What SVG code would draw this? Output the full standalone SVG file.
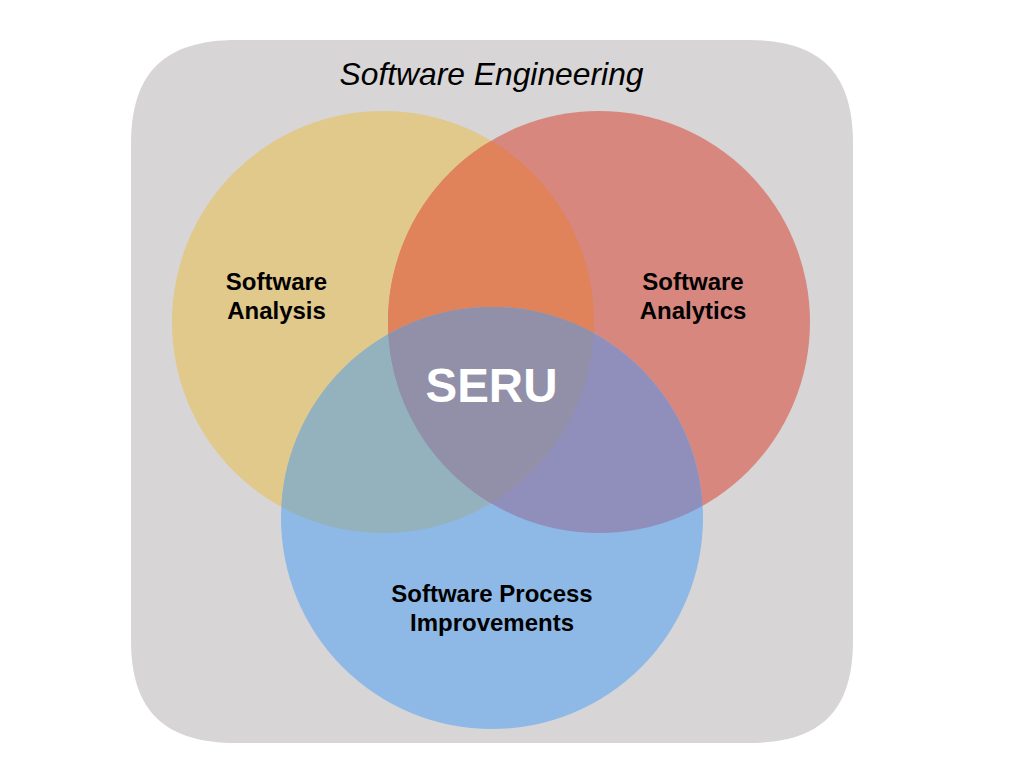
<svg xmlns="http://www.w3.org/2000/svg" width="1024" height="768" viewBox="0 0 1024 768">
<defs>
<style>
.lbl{font-family:"Liberation Sans",Arial,sans-serif;font-weight:bold;font-size:24px;fill:#000;text-anchor:middle}
.title{font-family:"Liberation Sans",Arial,sans-serif;font-style:italic;font-size:31.8px;fill:#000;text-anchor:middle}
.seru{font-family:"Liberation Sans",Arial,sans-serif;font-weight:bold;font-size:47.5px;fill:#fff;text-anchor:middle}
</style>
<clipPath id="cA"><circle cx="383" cy="322" r="211"/></clipPath>
<clipPath id="cB"><circle cx="599" cy="322" r="211"/></clipPath>
</defs>
<rect width="1024" height="768" fill="#fff"/>
<g id="background">
<path d="M237,40 H748 C820,40 853,72 853,144 V640 C853,712 820,743 748,743 H237 C165,743 131,712 131,640 V144 C131,72 165,40 237,40 Z" fill="#D7D5D6"/>
<text class="title" x="491.5" y="85">Software Engineering</text>
</g>
<g id="software-analysis">
<circle cx="383" cy="322" r="211" fill="#E1C88B"/>
</g>
<g id="software-analytics">
<circle cx="599" cy="322" r="211" fill="#D8877F"/>
<circle cx="599" cy="322" r="211" fill="#E0825A" clip-path="url(#cA)"/>
</g>
<g id="software-process-improvements">
<circle cx="492" cy="518" r="211" fill="#8EB9E6"/>
<circle cx="492" cy="518" r="211" fill="#93B2BE" clip-path="url(#cA)"/>
<circle cx="492" cy="518" r="211" fill="#908FBB" clip-path="url(#cB)"/>
<g clip-path="url(#cB)"><circle cx="492" cy="518" r="211" fill="#928FA8" clip-path="url(#cA)"/></g>
</g>
<g id="labels">
<text class="lbl" x="276.5" y="290">Software</text>
<text class="lbl" x="276.5" y="319">Analysis</text>
<text class="lbl" x="693" y="290">Software</text>
<text class="lbl" x="693" y="319">Analytics</text>
<text class="lbl" x="492" y="602">Software Process</text>
<text class="lbl" x="492" y="631">Improvements</text>
<text class="seru" x="491.5" y="402">SERU</text>
</g>
</svg>
